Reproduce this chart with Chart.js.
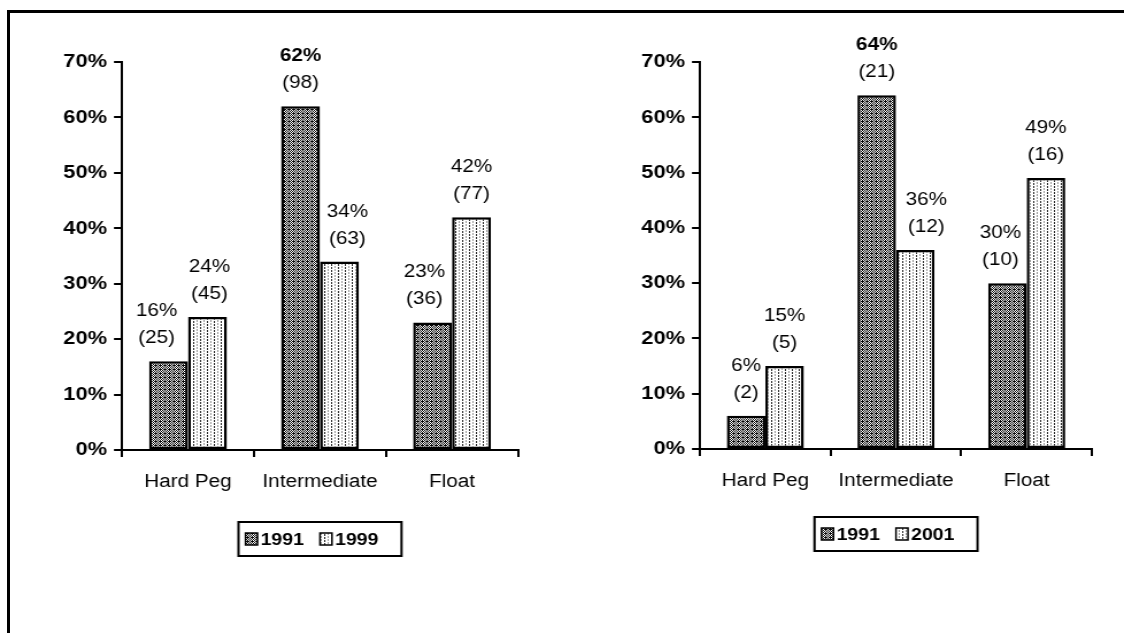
<!DOCTYPE html>
<html>
<head>
<meta charset="utf-8">
<script src="https://cdn.jsdelivr.net/npm/chart.js@4.4.1/dist/chart.umd.min.js"></script>
<style>
  html, body { margin: 0; padding: 0; background: #fff; }
  body { width: 1124px; height: 633px; overflow: hidden; position: relative; font-family: "Liberation Sans", Arial, sans-serif; }
  #frame { position: absolute; left: 7px; top: 10px; width: 1140px; height: 650px; border-left: 3px solid #000; border-top: 3px solid #000; }
  canvas.panel { position: absolute; top: 0; transform-origin: 0 0; }
  canvas.overlay { position: absolute; top: 0; transform-origin: 0 0; pointer-events: none; }
</style>
</head>
<body>
<div id="frame"></div>
<canvas class="panel" id="c1"></canvas>
<canvas class="overlay" id="o1"></canvas>
<canvas class="panel" id="c2"></canvas>
<canvas class="overlay" id="o2"></canvas>
<script>
// Exchange-rate regime categories, shares (%) and number of countries
const categories = ['Hard Peg', 'Intermediate', 'Float'];

const leftShare1991 = [16, 62, 23];
const leftCount1991 = [25, 98, 36];
const leftShare1999 = [24, 34, 42];
const leftCount1999 = [45, 63, 77];

const rightShare1991 = [6, 64, 30];
const rightCount1991 = [2, 21, 10];
const rightShare2001 = [15, 36, 49];
const rightCount2001 = [5, 12, 16];

const yTickValues = [0, 10, 20, 30, 40, 50, 60, 70];

// each panel is drawn a little narrow and widened with a CSS stretch
const STRETCH = 1.15;
const FONT = '"Liberation Sans", Arial, Helvetica, sans-serif';

// fill textures for the two series
function makePattern(rows, colors) {
  const h = rows.length, w = rows[0].length;
  const c = document.createElement('canvas');
  c.width = w; c.height = h;
  const g = c.getContext('2d');
  for (let y = 0; y < h; y++) {
    for (let x = 0; x < w; x++) {
      g.fillStyle = colors[rows[y][x]];
      g.fillRect(x, y, 1, 1);
    }
  }
  return g.createPattern(c, 'repeat');
}
const darkFill = makePattern(['W.W.', '.W..', 'W.W.', '.W.W'], { 'W': '#ffffff', '.': '#0a0a0a' });
const lightFill = makePattern(['#..:..', '#.....', '...:..'], { '#': '#2a2a2a', ':': '#9a9a9a', '.': '#ffffff' });

// value labels above the bars and the boxed legend, painted on a
// transparent layer that sits over the chart canvas
function makeAnnotations(layer, counts, shifts, boldAt, legendTop, sx) {
  return {
    id: 'annotations',
    afterDraw(chart) {
      const ctx = layer.getContext('2d');
      ctx.clearRect(0, 0, layer.width, layer.height);
      ctx.save();
      ctx.fillStyle = '#000';
      ctx.textAlign = 'center';
      ctx.textBaseline = 'middle';
      chart.data.datasets.forEach((ds, di) => {
        chart.getDatasetMeta(di).data.forEach((bar, i) => {
          const x = bar.x + shifts[di][i] / sx;
          const bold = boldAt[0] === di && boldAt[1] === i;
          ctx.font = (bold ? 'bold ' : '') + '18px ' + FONT;
          ctx.fillText(ds.data[i] + '%', x, bar.y - 50);
          ctx.font = '18px ' + FONT;
          ctx.fillText('(' + counts[di][i] + ')', x, bar.y - 23);
        });
      });

      const a = chart.chartArea;
      const w = 163 / sx, h = 34;
      const left = (a.left + a.right) / 2 - w / 2;
      ctx.lineWidth = 2;
      ctx.strokeStyle = '#000';
      ctx.strokeRect(left, legendTop, w, h);
      ctx.font = 'bold 17px ' + FONT;
      ctx.textAlign = 'left';
      let x = left + 7 / sx;
      chart.data.datasets.forEach(ds => {
        ctx.fillStyle = ds.backgroundColor;
        ctx.fillRect(x, legendTop + h / 2 - 6, 12 / sx, 12);
        ctx.lineWidth = 1.5;
        ctx.strokeRect(x, legendTop + h / 2 - 6, 12 / sx, 12);
        x += 15 / sx;
        ctx.fillStyle = '#000';
        ctx.fillText(ds.label, x, legendTop + h / 2 + 1);
        x += ctx.measureText(ds.label).width + 16 / sx;
      });
      ctx.restore();
    }
  };
}

function placeCanvas(canvas, left, cw, sx) {
  canvas.width = cw;
  canvas.height = 633;
  canvas.style.left = left + 'px';
  canvas.style.width = cw + 'px';
  canvas.style.height = '633px';
  canvas.style.transform = 'scaleX(' + sx + ')';
}

function buildChart(canvasId, layerId, panelLeft, panelWidth, areaLeft, areaRight, areaTop, areaBottom,
                    seriesA, seriesB, shifts, boldAt, legendTop) {
  const canvas = document.getElementById(canvasId);
  const layer = document.getElementById(layerId);
  const cw = Math.round(panelWidth / STRETCH);
  const sx = panelWidth / cw;
  placeCanvas(canvas, panelLeft, cw, sx);
  placeCanvas(layer, panelLeft, cw, sx);

  const yAxisWidth = 56;
  const xAxisHeight = 44;

  return new Chart(canvas, {
    type: 'bar',
    data: {
      labels: categories,
      datasets: [seriesA, seriesB].map(s => ({
        label: s.label,
        data: s.data,
        backgroundColor: s.fill,
        borderColor: '#000',
        borderWidth: 2.5,
        borderSkipped: false,
        categoryPercentage: 0.59,
        barPercentage: 1.0
      }))
    },
    options: {
      responsive: false,
      maintainAspectRatio: false,
      animation: false,
      devicePixelRatio: 1,
      layout: {
        padding: {
          left: (areaLeft - panelLeft) / sx - yAxisWidth,
          right: cw - (areaRight - panelLeft) / sx,
          top: areaTop,
          bottom: 633 - areaBottom - xAxisHeight
        }
      },
      plugins: { legend: { display: false }, tooltip: { enabled: false } },
      scales: {
        x: {
          grid: { display: true, drawOnChartArea: false, offset: true, color: '#000', lineWidth: 2, tickLength: 7 },
          border: { display: true, color: '#000', width: 2 },
          ticks: { color: '#000', font: { family: FONT, size: 18 }, padding: 14, maxRotation: 0 },
          afterFit(s) { s.height = xAxisHeight; }
        },
        y: {
          min: 0,
          max: 70,
          afterBuildTicks(s) { s.ticks = yTickValues.map(v => ({ value: v })); },
          grid: { display: true, drawOnChartArea: false, color: '#000', lineWidth: 2, tickLength: 7 },
          border: { display: true, color: '#000', width: 2 },
          ticks: { color: '#000', font: { family: FONT, size: 19, weight: 'bold' }, padding: 6,
                   callback: v => v + '%' },
          afterFit(s) { s.width = yAxisWidth; }
        }
      }
    },
    plugins: [makeAnnotations(layer, [seriesA.counts, seriesB.counts], shifts, boldAt, legendTop, sx)]
  });
}

buildChart('c1', 'o1', 0, 600, 122, 518, 62, 450,
  { label: '1991', data: leftShare1991, counts: leftCount1991, fill: darkFill },
  { label: '1999', data: leftShare1999, counts: leftCount1999, fill: lightFill },
  [[-12, 0, -8], [2, 8, 0]], [0, 1], 522);

buildChart('c2', 'o2', 578, 546, 700, 1092, 62, 449,
  { label: '1991', data: rightShare1991, counts: rightCount1991, fill: darkFill },
  { label: '2001', data: rightShare2001, counts: rightCount2001, fill: lightFill },
  [[0, 0, -7], [0, 11, 0]], [0, 1], 517);
</script>
</body>
</html>
